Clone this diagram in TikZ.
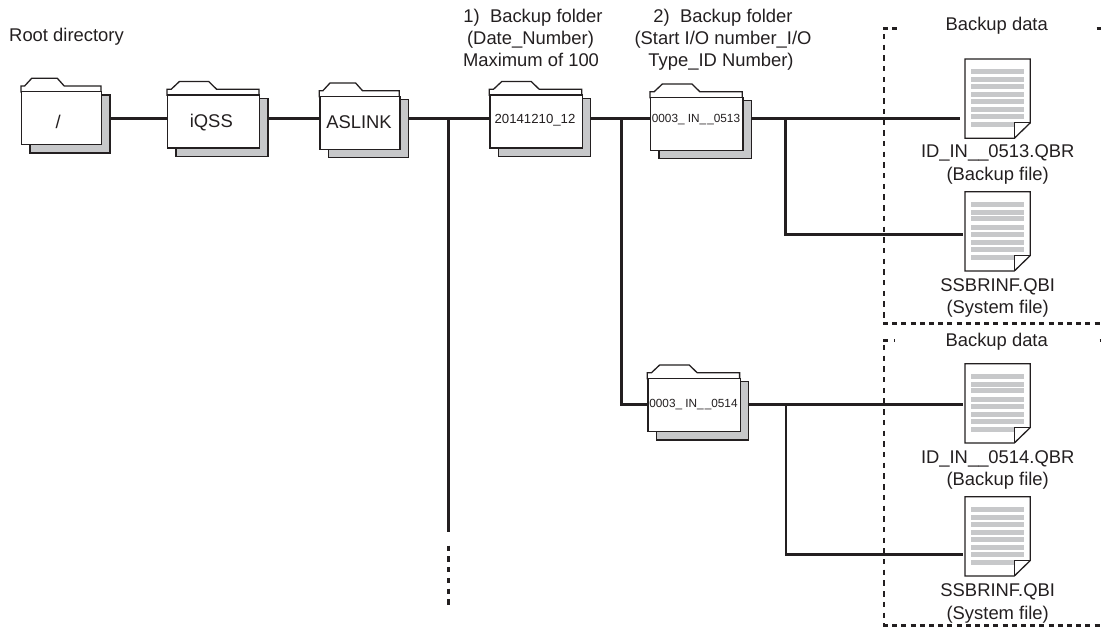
\documentclass[tikz,border=0pt]{standalone}
\usepackage{fontspec}
\setmainfont{Liberation Sans}
\definecolor{ink}{HTML}{231F20}
\definecolor{greyfill}{HTML}{C7C8CA}
\tikzset{
  lbl/.style={anchor=base,inner sep=0pt,text=ink,font=\fontsize{18.4}{22}\selectfont},
  smalllbl/.style={anchor=center,inner sep=0pt,text=ink},
  outline/.style={draw=ink,line width=1.3pt,line join=miter},
  wire/.style={draw=ink,line width=2.5pt},
  vdash/.style={draw=ink,line width=2.6pt,dash pattern=on 5.4pt off 5.3pt},
  hdash/.style={draw=ink,line width=2.6pt,dash pattern=on 5pt off 4.2pt},
  frontbox/.style={outline,fill=white,inner sep=0pt,minimum height=58pt,anchor=north west},
  shadowbox/.style={outline,fill=greyfill,inner sep=0pt,minimum height=58pt,anchor=north west},
  docanchor/.style={inner sep=0pt,minimum width=65.3pt,minimum height=79.3pt,anchor=north west}
}
% #1 name, #2 left, #3 top, #4 width, #5 label font size, #6 label, #7 label centre
\newcommand{\folderbox}[7]{
  \node[shadowbox,minimum width=#4pt] (#1s) at (#2+8.3,#3+8.5) {};
  \draw[outline,fill=white] (#2,#3) -- (#2+0.045*#4,#3) -- (#2+0.134*#4,#3-7.7)
     -- (#2+0.454*#4,#3-7.7) -- (#2+0.54*#4,#3) -- (#2+#4,#3) -- (#2+#4,#3+6) -- (#2,#3+6) -- cycle;
  \node[frontbox,minimum width=#4pt,minimum height=53pt] (#1) at (#2,#3+5) {};
  \node[smalllbl,font=\fontsize{#5}{#5}\selectfont] (#1t) at (#7) {#6};
}
% #1 name, #2 left, #3 top
\newcommand{\docbox}[3]{
  \node[docanchor] (#1) at (#2,#3) {};
  \draw[outline,fill=white] (#2,#3) -- (#2+65.3,#3) -- (#2+65.3,#3+63.8) -- (#2+49.3,#3+79.3) -- (#2,#3+79.3) -- cycle;
  \foreach \off in {10,18,24.8,33,40,48,55}
    \fill[greyfill] (#2+6,#3+\off) rectangle (#2+59,#3+\off+5);
  \fill[greyfill] (#2+6,#3+63) rectangle (#2+49.3,#3+68);
  \draw[outline] (#2+49.3,#3+79.3) -- (#2+49.3,#3+63.8) -- (#2+65.3,#3+63.8);
}
\begin{document}
\begin{tikzpicture}[x=1pt,y=-1pt]
\useasboundingbox (0,0) rectangle (1101,628);
\begin{scope}
\clip (0,0) rectangle (1101,628);
% dashed frames
\draw[vdash] (884,34) -- (884,324);
\draw[hdash] (883,323.7) -- (1101,323.7);
\draw[hdash] (883,28.7) -- (899,28.7);
\draw[hdash] (1096.5,28.7) -- (1101,28.7);
\draw[vdash] (884,345) -- (884,626);
\draw[hdash] (883,625.7) -- (1101,625.7);
\draw[hdash,dash pattern=on 5pt off 6pt on 1pt off 3pt] (883,340.7) -- (896,340.7);
\draw[hdash] (1099.5,340.7) -- (1101,340.7);
\end{scope}
% folders
\folderbox{fa}{21}{86}{80}{18.4}{/}{58.3,122.3}
\folderbox{fb}{167}{89.3}{92}{18.4}{iQSS}{211.3,122.3}
\folderbox{fc}{319.3}{90.7}{80}{18.4}{ASLINK}{359,122.3}
\folderbox{fd}{489.3}{89.3}{92.5}{13.2}{20141210\_12}{535,120}
\folderbox{fe}{650}{91.7}{92.3}{11.8}{0003\_ IN\_\kern1pt\_0513}{696,120}
\folderbox{ff}{647.3}{372.7}{92.3}{11.8}{0003\_ IN\_\kern1pt\_0514}{693.5,405}
% documents
\docbox{da}{965}{59}
\docbox{db}{965}{191.7}
\docbox{dc}{965}{363.7}
\docbox{dd}{965}{496.7}
% junction coordinates
\coordinate (busa) at (448.7,118.7);
\coordinate (busb) at (621.7,118.7);
\coordinate (busc) at (785.7,118.7);
\coordinate (busd) at (621.7,404.3);
\coordinate (buse) at (786,404.3);
\coordinate (ende) at (448.7,531.7);
\coordinate (dashs) at (448.7,545.7);
\coordinate (dashe) at (448.7,605);
\coordinate (cornb) at (785.7,234.7);
\coordinate (cornd) at (786,554.7);
% connectors
\draw[wire] (fas.east |- busa) -- (fb.west |- busa);
\draw[wire] (fbs.east |- busa) -- (fc.west |- busa);
\draw[wire] (fcs.east |- busa) -- (fd.west |- busa);
\draw[wire] (busa) -- (ende);
\draw[wire,dash pattern=on 5.3pt off 5.4pt] (dashs) -- (dashe);
\draw[wire] (fds.east |- busa) -- (fe.west |- busa);
\draw[wire] (busb) -- (busd) -- (ff.west |- busd);
\draw[wire,shorten >=5pt] (fes.east |- busa) -- (da.west |- busa);
\draw[wire,shorten >=2pt] (busc) -- (cornb) -- (db.west |- cornb);
\draw[wire,shorten >=2pt] (ffs.east |- busd) -- (dc.west |- busd);
\draw[wire,shorten >=2pt] (buse) -- (cornd) -- (dd.west |- cornd);
% labels
\node[lbl] (root) at (66.5,42) {Root directory};
\node[lbl] (h1a) at (533,22.7) {1)\ \ Backup folder};
\node[lbl] (h1b) at (530.5,45) {(Date\_Number)};
\node[lbl] (h1c) at (531,66.7) {Maximum of 100};
\node[lbl] (h2a) at (723,22.7) {2)\ \ Backup folder};
\node[lbl] (h2b) at (723,45) {(Start I/O number\_I/O};
\node[lbl] (h2c) at (721,66.7) {Type\_ID Number)};
\node[lbl] (bka) at (996.7,30.7) {Backup data};
\node[lbl] (bkb) at (996.7,346.7) {Backup data};
\node[lbl] (ida) at (997.7,157.7) {ID\_IN\_\_0513.QBR};
\node[lbl] (ba) at (997.7,180.7) {(Backup file)};
\node[lbl] (ssa) at (997.7,292) {SSBRINF.QBI};
\node[lbl] (sa) at (997.7,314) {(System file)};
\node[lbl] (idb) at (997.7,463.3) {ID\_IN\_\_0514.QBR};
\node[lbl] (bb) at (997.7,485) {(Backup file)};
\node[lbl] (ssb) at (997.7,596.7) {SSBRINF.QBI};
\node[lbl] (sb) at (997.7,619) {(System file)};
\end{tikzpicture}
\end{document}
